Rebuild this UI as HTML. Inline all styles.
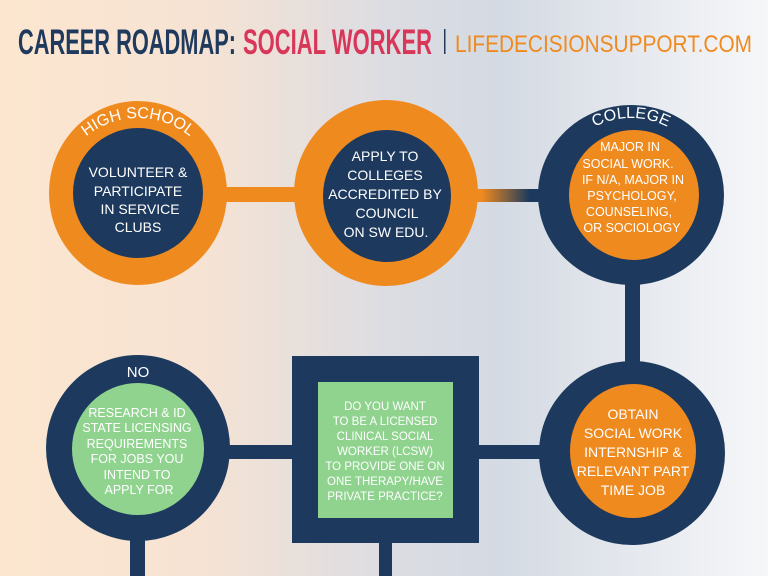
<!DOCTYPE html>
<html><head><meta charset="utf-8"><style>
html,body{margin:0;padding:0;width:768px;height:576px;overflow:hidden}
svg{display:block}
text{font-family:"Liberation Sans",sans-serif}
</style></head><body>
<svg width="768" height="576" viewBox="0 0 768 576" xmlns="http://www.w3.org/2000/svg">
<defs>
<linearGradient id="bg" x1="0" x2="1" y1="0" y2="0">
<stop offset="0" stop-color="#fce6d0"/>
<stop offset="0.25" stop-color="#f7e3d3"/>
<stop offset="0.5" stop-color="#dcdde2"/>
<stop offset="0.65" stop-color="#d4dae3"/>
<stop offset="1" stop-color="#f6f7f9"/>
</linearGradient>
<linearGradient id="cg" x1="0" x2="1">
<stop offset="0.1" stop-color="#ef8a1f"/>
<stop offset="0.8" stop-color="#1d3a5e"/>
</linearGradient>
<path id="arc1" d="M56,200 A82,82 0 0 1 220,200"/>
<path id="arc3" d="M552,197 A79,79 0 0 1 710,197"/>
</defs>
<rect width="768" height="576" fill="url(#bg)"/>
<text x="18" y="54" font-size="35" font-weight="bold" fill="#1f3a5c" textLength="218" lengthAdjust="spacingAndGlyphs">CAREER ROADMAP:</text>
<text x="243" y="54" font-size="35" font-weight="bold" fill="#d9375a" textLength="189" lengthAdjust="spacingAndGlyphs">SOCIAL WORKER</text>
<rect x="444" y="29" width="1.5" height="25" fill="#1f3a5c"/>
<text x="455" y="52" font-size="24" fill="#ef8a1f" textLength="297" lengthAdjust="spacingAndGlyphs">LIFEDECISIONSUPPORT.COM</text>

<rect x="225" y="187" width="75" height="15" fill="#ef8a1f"/>
<rect x="475" y="189" width="68" height="13" fill="url(#cg)"/>
<rect x="625" y="270" width="15" height="95" fill="#1d3a5e"/>

<ellipse cx="138" cy="193" rx="89" ry="92" fill="#ef8a1f"/>
<ellipse cx="138" cy="193" rx="65" ry="65" fill="#1d3a5e"/>
<text font-size="16" fill="#fff"><textPath href="#arc1" startOffset="50%" text-anchor="middle">HIGH SCHOOL</textPath></text>
<g font-size="14" fill="#fff" text-anchor="middle">
<text x="138" y="177">VOLUNTEER &amp;</text>
<text x="138" y="196">PARTICIPATE</text>
<text x="140" y="214">IN SERVICE</text>
<text x="138" y="232">CLUBS</text>
</g>

<ellipse cx="386" cy="193" rx="92" ry="93" fill="#ef8a1f"/>
<ellipse cx="387" cy="196" rx="64" ry="66" fill="#1d3a5e"/>
<g font-size="14" fill="#fff" text-anchor="middle">
<text x="385" y="161">APPLY TO</text>
<text x="385" y="180">COLLEGES</text>
<text x="385" y="199">ACCREDITED BY</text>
<text x="387" y="218">COUNCIL</text>
<text x="386" y="237">ON SW EDU.</text>
</g>

<ellipse cx="631" cy="195" rx="93" ry="90" fill="#1d3a5e"/>
<ellipse cx="634" cy="195" rx="65" ry="65" fill="#ef8a1f"/>
<text font-size="16" fill="#fff"><textPath href="#arc3" startOffset="50%" text-anchor="middle">COLLEGE</textPath></text>
<g font-size="12.5" fill="#fff" text-anchor="middle">
<text x="630" y="151">MAJOR IN</text>
<text x="628" y="168">SOCIAL WORK.</text>
<text x="633" y="184">IF N/A,  MAJOR IN</text>
<text x="632" y="200">PSYCHOLOGY,</text>
<text x="629" y="216">COUNSELING,</text>
<text x="632" y="232">OR SOCIOLOGY</text>
</g>

<rect x="225" y="445" width="70" height="14" fill="#1d3a5e"/>
<rect x="476" y="445" width="66" height="14" fill="#1d3a5e"/>
<rect x="130" y="530" width="15" height="46" fill="#1d3a5e"/>
<rect x="379" y="540" width="13" height="36" fill="#1d3a5e"/>

<ellipse cx="138" cy="448" rx="92" ry="93" fill="#1d3a5e"/>
<ellipse cx="138" cy="449" rx="66" ry="66" fill="#8fd38f"/>
<text x="138" y="377" font-size="15" fill="#fff" text-anchor="middle">NO</text>
<g font-size="12.5" fill="#fff" text-anchor="middle">
<text x="137" y="417">RESEARCH &amp; ID</text>
<text x="137" y="432">STATE LICENSING</text>
<text x="137" y="448">REQUIREMENTS</text>
<text x="137" y="463">FOR JOBS YOU</text>
<text x="137" y="479">INTEND TO</text>
<text x="139" y="494">APPLY FOR</text>
</g>

<rect x="292" y="356" width="187" height="187" fill="#1d3a5e"/>
<rect x="318" y="382" width="135" height="136" fill="#8fd38f"/>
<g font-size="11.5" fill="#fff" text-anchor="middle">
<text x="385" y="410">DO YOU WANT</text>
<text x="385" y="425">TO BE A LICENSED</text>
<text x="385" y="440">CLINICAL SOCIAL</text>
<text x="385" y="455">WORKER (LCSW)</text>
<text x="385" y="470">TO PROVIDE ONE ON</text>
<text x="385" y="485">ONE THERAPY/HAVE</text>
<text x="385" y="500">PRIVATE PRACTICE?</text>
</g>

<ellipse cx="632" cy="453" rx="93" ry="92" fill="#1d3a5e"/>
<ellipse cx="633" cy="451" rx="63" ry="67" fill="#ef8a1f"/>
<g font-size="14" fill="#fff" text-anchor="middle">
<text x="633" y="419">OBTAIN</text>
<text x="633" y="438">SOCIAL WORK</text>
<text x="633" y="457">INTERNSHIP &amp;</text>
<text x="633" y="476">RELEVANT PART</text>
<text x="633" y="495">TIME JOB</text>
</g>
</svg>
</body></html>
